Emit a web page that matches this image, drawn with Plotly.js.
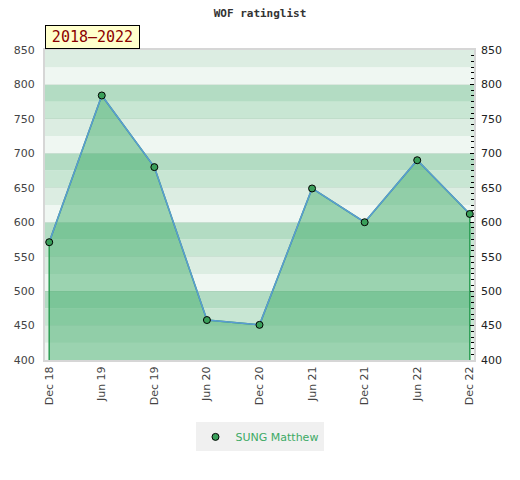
<!DOCTYPE html>
<html>
<head>
<meta charset="utf-8">
<script src="https://cdn.plot.ly/plotly-3.0.1.min.js"></script>
<style>html,body{margin:0;padding:0;background:#fff;}#chart{width:520px;height:480px;}</style>
</head>
<body>
<div id="chart"></div>
<script>
const periods = ["Dec 18","Jun 19","Dec 19","Jun 20","Dec 20","Jun 21","Dec 21","Jun 22","Dec 22"];
const ratings = [571, 784, 680, 458, 451, 649, 600, 690, 612];
const playerName = "SUNG Matthew";
const chartTitle = "WOF ratinglist";
const periodLabel = "2018–2022";
const yMin = 400, yMax = 850;

const bandColors = {0: "#eff7f2", 25: "#dcede2", 50: "#c8e6d3", 75: "#b3dcc3"};
const shapes = [];
for (let v = yMin; v < yMax; v += 25) {
  shapes.push({type: "rect", xref: "paper", yref: "y", x0: 0, x1: 1, y0: v, y1: v + 25,
    fillcolor: bandColors[v % 100], line: {width: 0}, layer: "below"});
}

const last = periods.length - 1;
const fillTrace = {
  x: [periods[0]].concat(periods, [periods[last]]),
  y: [yMin].concat(ratings, [yMin]),
  mode: "lines", fill: "toself", fillcolor: "rgba(63,172,105,0.48)",
  line: {color: "#2e9e55", width: 1.5}, hoverinfo: "skip", showlegend: false
};
const lineTrace = {
  x: periods, y: ratings, mode: "lines",
  line: {color: "#5b9bd5", width: 1.5}, showlegend: false
};
const markerTrace = {
  x: periods, y: ratings, mode: "markers", name: playerName,
  marker: {color: "#3a9f5a", size: 7, line: {color: "#000", width: 1}}
};

const tickFont = {family: "DejaVu Sans", size: 11, color: "#444"};
const layout = {
  width: 520, height: 480,
  margin: {l: 45, r: 46, t: 50, b: 120},
  paper_bgcolor: "#fff", plot_bgcolor: "#fff",
  title: {text: chartTitle, x: 0.5, xanchor: "center", y: 0.972, yanchor: "middle",
    font: {family: "DejaVu Sans Mono", size: 11, color: "#333", weight: "bold"}},
  xaxis: {type: "category", range: [-0.08, 8.08], tickangle: -90, tickfont: tickFont,
    showgrid: false, zeroline: false, showline: true, linecolor: "#d6d6d6", linewidth: 2,
    mirror: true, ticks: "", fixedrange: true},
  yaxis: {range: [yMin, yMax], dtick: 50, tickfont: tickFont, ticks: "", ticklabelstandoff: 6,
    showgrid: true, gridcolor: "rgba(0,0,0,0.04)", zeroline: false,
    showline: true, linecolor: "#d6d6d6", linewidth: 2, mirror: true},
  yaxis2: {range: [yMin, yMax], dtick: 50, overlaying: "y", side: "right", ticklabelstandoff: 6,
    tickfont: {family: "DejaVu Sans", size: 11, color: "#222"},
    ticks: "inside", ticklen: 4, tickcolor: "#000", showgrid: false, zeroline: false,
    minor: {dtick: 50 / 6, ticks: "inside", ticklen: 3, tickcolor: "#000", showgrid: false}},
  shapes: shapes,
  annotations: [{text: periodLabel, xref: "paper", yref: "paper", x: 0, y: 1, xanchor: "left",
    yanchor: "bottom", yshift: 1, width: 87, height: 16, showarrow: false,
    bgcolor: "#ffffcc", bordercolor: "#000", borderwidth: 1,
    borderpad: 3, font: {family: "DejaVu Sans Mono", size: 15, color: "#8b0000"}}],
  showlegend: true,
  legend: {orientation: "h", x: 0.5, xanchor: "center", y: -0.248, yanchor: "middle",
    bgcolor: "#f0f0f0", font: {family: "DejaVu Sans", size: 11, color: "#3daa65"}}
};

const axis2Trace = {x: periods, y: ratings, yaxis: "y2", mode: "markers",
  marker: {opacity: 0}, hoverinfo: "skip", showlegend: false};

Plotly.newPlot("chart", [fillTrace, lineTrace, markerTrace, axis2Trace], layout, {displayModeBar: false, staticPlot: true});
</script>
</body>
</html>
